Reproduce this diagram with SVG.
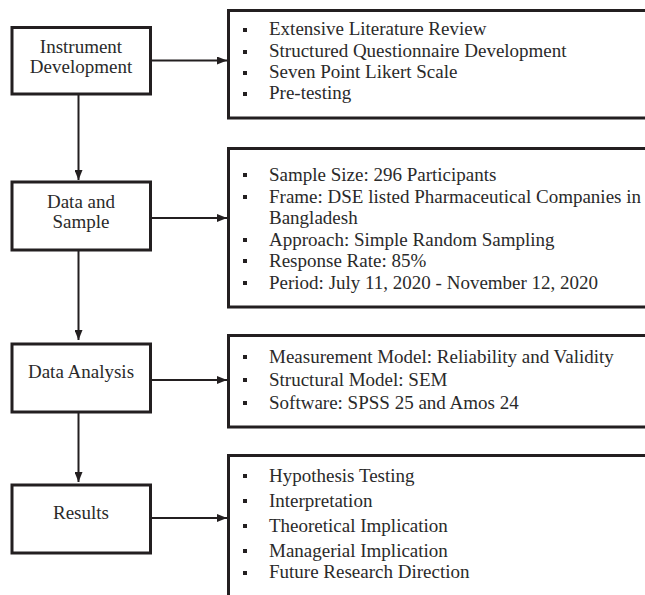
<svg xmlns="http://www.w3.org/2000/svg" width="645" height="595" viewBox="0 0 645 595">
<defs>
<style>
.box{fill:#fff;stroke:#231f20;stroke-width:3}
.conn{fill:none;stroke:#231f20;stroke-width:2}
.t{font-family:"Liberation Serif","Times New Roman",serif;font-size:19px;fill:#2a2a2a}
.c{text-anchor:middle}
.b{fill:#231f20}
</style>
<marker id="ah" viewBox="0 0 10 8" refX="10" refY="4" markerWidth="10" markerHeight="8" markerUnits="userSpaceOnUse" orient="auto">
<path d="M0,0 L10,4 L0,8 Z" fill="#231f20"/>
</marker>
<symbol id="bul" overflow="visible"><rect x="-2" y="-2" width="4" height="4"/></symbol>
</defs>
<rect width="645" height="595" fill="#fff"/>

<g id="connectors">
<line class="conn" x1="151" y1="60.5" x2="227" y2="60.5" marker-end="url(#ah)"/>
<line class="conn" x1="151" y1="218" x2="227" y2="218" marker-end="url(#ah)"/>
<line class="conn" x1="151" y1="380" x2="227" y2="380" marker-end="url(#ah)"/>
<line class="conn" x1="151" y1="518" x2="227" y2="518" marker-end="url(#ah)"/>
<line class="conn" x1="78.5" y1="94" x2="78.5" y2="180" marker-end="url(#ah)"/>
<line class="conn" x1="78.5" y1="250" x2="78.5" y2="340" marker-end="url(#ah)"/>
<line class="conn" x1="78.5" y1="412" x2="78.5" y2="482" marker-end="url(#ah)"/>
</g>

<g id="instrument-development">
<rect class="box" x="12" y="27.5" width="138.5" height="66.5"/>
<text class="t c" x="81" y="53">Instrument</text>
<text class="t c" x="81" y="73">Development</text>
</g>
<g id="data-and-sample">
<rect class="box" x="12" y="182" width="138.5" height="68"/>
<text class="t c" x="81" y="208">Data and</text>
<text class="t c" x="81" y="228">Sample</text>
</g>
<g id="data-analysis">
<rect class="box" x="12" y="344" width="138.5" height="68"/>
<text class="t c" x="81" y="378">Data Analysis</text>
</g>
<g id="results">
<rect class="box" x="12" y="485" width="138.5" height="68"/>
<text class="t c" x="81" y="519">Results</text>
</g>

<g id="instrument-details">
<rect class="box" x="228.5" y="10.5" width="430" height="107.5"/>
<g class="b">
<use href="#bul" x="245" y="30"/><use href="#bul" x="245" y="52"/><use href="#bul" x="245" y="73"/><use href="#bul" x="245" y="94"/>
</g>
<text class="t" x="269" y="35">Extensive Literature Review</text>
<text class="t" x="269" y="57">Structured Questionnaire Development</text>
<text class="t" x="269" y="78">Seven Point Likert Scale</text>
<text class="t" x="269" y="99">Pre-testing</text>
</g>

<g id="sample-details">
<rect class="box" x="228.5" y="148.5" width="430" height="158.5"/>
<g class="b">
<use href="#bul" x="245" y="175"/><use href="#bul" x="245" y="197"/><use href="#bul" x="245" y="240"/><use href="#bul" x="245" y="261"/><use href="#bul" x="245" y="283"/>
</g>
<text class="t" x="269" y="181">Sample Size: 296 Participants</text>
<text class="t" x="269" y="203">Frame: DSE listed Pharmaceutical Companies in</text>
<text class="t" x="269" y="224">Bangladesh</text>
<text class="t" x="269" y="246">Approach: Simple Random Sampling</text>
<text class="t" x="269" y="267">Response Rate: 85%</text>
<text class="t" x="269" y="289">Period: July 11, 2020 - November 12, 2020</text>
</g>

<g id="analysis-details">
<rect class="box" x="228.5" y="335.5" width="430" height="91.5"/>
<g class="b">
<use href="#bul" x="245" y="357"/><use href="#bul" x="245" y="380"/><use href="#bul" x="245" y="403"/>
</g>
<text class="t" x="269" y="363">Measurement Model: Reliability and Validity</text>
<text class="t" x="269" y="386">Structural Model: SEM</text>
<text class="t" x="269" y="409">Software: SPSS 25 and Amos 24</text>
</g>

<g id="results-details">
<rect class="box" x="228.5" y="455.5" width="430" height="160"/>
<g class="b">
<use href="#bul" x="245" y="476"/><use href="#bul" x="245" y="501"/><use href="#bul" x="245" y="526"/><use href="#bul" x="245" y="551"/><use href="#bul" x="245" y="573"/>
</g>
<text class="t" x="269" y="482">Hypothesis Testing</text>
<text class="t" x="269" y="507">Interpretation</text>
<text class="t" x="269" y="532">Theoretical Implication</text>
<text class="t" x="269" y="557">Managerial Implication</text>
<text class="t" x="269" y="578">Future Research Direction</text>
</g>
</svg>
